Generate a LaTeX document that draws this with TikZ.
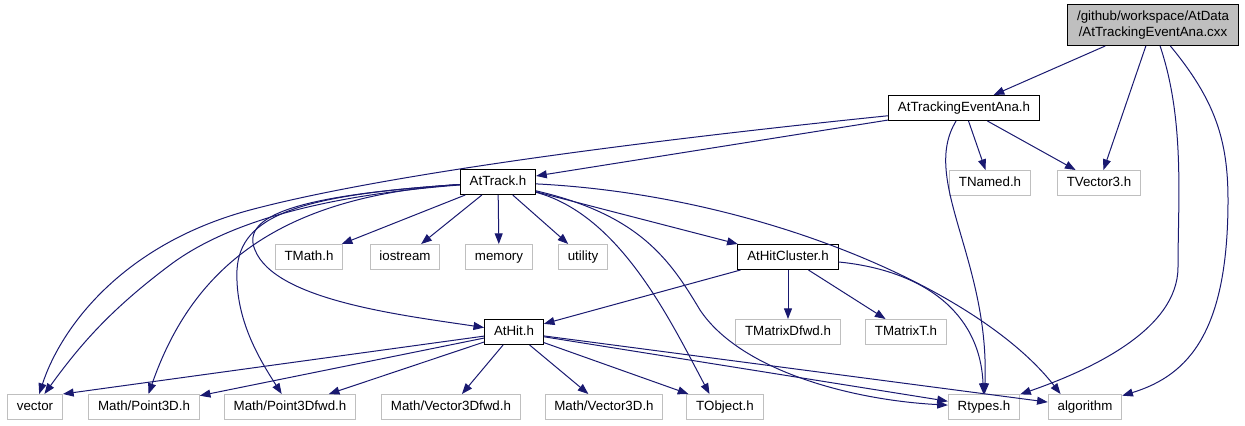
\documentclass[tikz,border=0pt]{standalone}
\usepackage{fontspec}
\setmainfont{Liberation Sans}
\usetikzlibrary{arrows.meta}
\definecolor{edgeblue}{HTML}{191970}
\definecolor{extgray}{HTML}{BFBFBF}

\begin{document}
\begin{tikzpicture}[x=0.75pt,y=-0.75pt,
  font=\fontsize{10}{12}\selectfont,
  filebox/.style={shape=rectangle,draw=black,fill=white,line width=0.75pt,
    inner xsep=7pt,inner ysep=0pt,minimum height=18.75pt},
  hdr/.style={filebox,text height=7.4pt,text depth=2.1pt},
  ext/.style={hdr,draw=extgray},
  inc/.style={draw=edgeblue,line width=0.75pt,
    -{Triangle[length=8pt,width=6pt]}}]
  \useasboundingbox (0,0) rectangle (1245,425);

  \node[filebox,fill=extgray,align=center,minimum height=30.75pt] (src) at (1153,25)
    {/github/workspace/AtData\\/AtTrackingEventAna.cxx};
  \node[hdr] (ate) at (964,108) {AtTrackingEventAna.h};
  \node[hdr] (track) at (498,182) {AtTrack.h};
  \node[ext] (tnamed) at (990,183) {TNamed.h};
  \node[ext] (tvecthree) at (1099,183) {TVector3.h};

  \node[ext] (tmath) at (309,257) {TMath.h};
  \node[ext] (iostream) at (405,257) {iostream};
  \node[ext] (memory) at (499,257) {memory};
  \node[ext] (utility) at (583,257) {utility};
  \node[hdr] (cluster) at (788,257) {AtHitCluster.h};

  \node[hdr] (hit) at (514,332) {AtHit.h};
  \node[ext] (tmdfwd) at (788,332) {TMatrixDfwd.h};
  \node[ext] (tmatt) at (906,332) {TMatrixT.h};

  \node[ext] (vector) at (35,407) {vector};
  \node[ext] (pthreed) at (144,407) {Math/Point3D.h};
  \node[ext] (pthreedfwd) at (290,407) {Math/Point3Dfwd.h};
  \node[ext] (vthreedfwd) at (451,407) {Math/Vector3Dfwd.h};
  \node[ext] (vthreed) at (604,407) {Math/Vector3D.h};
  \node[ext] (tobject) at (725,407) {TObject.h};
  \node[ext] (rtypes) at (984,407) {Rtypes.h};
  \node[ext] (algorithm) at (1085,407) {algorithm};

  % includes of the source file
  \draw[inc] (src) -- (ate);
  \draw[inc] (src) -- (tvecthree);
  \draw[inc] (src) .. controls (1185,120) and (1178,200) .. (1178,267)
    .. controls (1178,330) and (1090,370) .. (rtypes);
  \draw[inc] (src) .. controls (1215,100) and (1228,140) .. (1228,200)
    .. controls (1228,330) and (1190,375) .. (algorithm);

  % AtTrackingEventAna.h
  \draw[inc] (ate) -- (tnamed);
  \draw[inc] (ate) -- (tvecthree);
  \draw[inc] (ate) .. controls (920,180) and (990,260) .. (rtypes);
  \draw[inc] (ate) -- (track);
  \draw[inc] (ate) .. controls (700,135) and (400,170) .. (250,210)
    .. controls (120,245) and (60,330) .. (vector);

  % AtTrack.h
  \draw[inc] (track) .. controls (330,195) and (230,220) .. (170,265)
    .. controls (110,310) and (80,345) .. (vector);
  \draw[inc] (track) .. controls (270,197) and (190,275) .. (pthreed);
  \draw[inc] (track) .. controls (300,195) and (240,215) .. (237,270)
    .. controls (235,320) and (260,360) .. (pthreedfwd);
  \draw[inc] (track) .. controls (300,195) and (240,215) .. (255,250)
    .. controls (275,300) and (400,315) .. (hit);
  \draw[inc] (track) -- (tmath);
  \draw[inc] (track) -- (iostream);
  \draw[inc] (track) -- (memory);
  \draw[inc] (track) -- (utility);
  \draw[inc] (track) -- (cluster);
  \draw[inc] (track) .. controls (620,215) and (670,320) .. (tobject.140);
  \draw[inc] (track) .. controls (640,215) and (670,260) .. (700,310)
    .. controls (740,370) and (850,400) .. (rtypes);
  \draw[inc] (track) .. controls (760,195) and (980,290) .. (algorithm.152);

  % AtHitCluster.h
  \draw[inc] (cluster) -- (hit);
  \draw[inc] (cluster) -- (tmdfwd);
  \draw[inc] (cluster) -- (tmatt);
  \draw[inc] (cluster) .. controls (920,270) and (980,310) .. (rtypes);

  % AtHit.h
  \draw[inc] (hit) -- (vector.north east);
  \draw[inc] (hit) -- (pthreed);
  \draw[inc] (hit) -- (pthreedfwd);
  \draw[inc] (hit) -- (vthreedfwd);
  \draw[inc] (hit) -- (vthreed);
  \draw[inc] (hit) -- (tobject);
  \draw[inc] (hit) -- (rtypes);
  \draw[inc] (hit) -- (algorithm);
\end{tikzpicture}
\end{document}
